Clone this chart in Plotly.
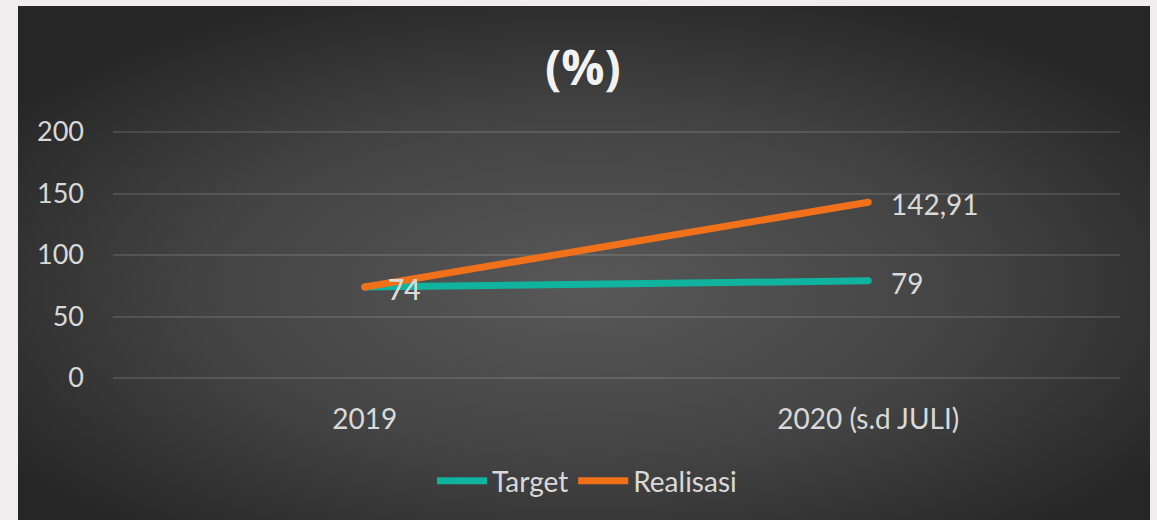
import base64
import plotly.graph_objects as go

categories = ["2019", "2020 (s.d JULI)"]
target = [74, 79]
realisasi = [74, 142.91]
target_labels = ["74", "79"]
realisasi_labels = ["74", "142,91"]
y_ticks = [0, 50, 100, 150, 200]

TEAL = "#0fb39e"
ORANGE = "#f0711a"
TXT = "#d9d9d9"
FONT = "Lato, 'Open Sans', sans-serif"

svg = (
    '<svg xmlns="http://www.w3.org/2000/svg" width="1132" height="514" '
    'viewBox="0 0 1132 514" preserveAspectRatio="none">'
    '<defs><radialGradient id="g" cx="0.5" cy="0.55" r="0.62">'
    '<stop offset="0" stop-color="#585858"/>'
    '<stop offset="0.55" stop-color="#434343"/>'
    '<stop offset="1" stop-color="#262626"/>'
    '</radialGradient></defs>'
    '<rect width="1132" height="514" fill="url(#g)"/></svg>'
)
src = "data:image/svg+xml;base64," + base64.b64encode(svg.encode()).decode()

# plot area pixel geometry
PL, PR, PB, PT = 113, 1120, 378, 130
PXPU = 1.23  # pixels per unit (from reference gridlines)
YMAX = (PB - PT) / PXPU

fig = go.Figure()
for name, vals, col in [("Target", target, TEAL), ("Realisasi", realisasi, ORANGE)]:
    fig.add_trace(go.Scatter(
        x=categories, y=vals, mode="lines", name=name,
        line=dict(color=col, width=7), hoverinfo="skip"))
    fig.add_trace(go.Scatter(
        x=categories, y=vals, mode="markers", showlegend=False,
        marker=dict(color=col, size=7, line=dict(width=0)), hoverinfo="skip"))

# data labels (x given as category index)
for vals, labels in [(target, target_labels), (realisasi, realisasi_labels)]:
    for i, (v, t) in enumerate(zip(vals, labels)):
        fig.add_annotation(x=i, y=v, text=t, showarrow=False, xanchor="left",
                           yanchor="middle", xshift=21, yshift=-2,
                           font=dict(family=FONT, size=28, color=TXT))

H = PB - PT
W = PR - PL
fig.add_annotation(xref="paper", yref="paper", x=(583 - PL) / W, y=(PB - 66) / H,
                   text="<b>(%)</b>", showarrow=False, xanchor="center", yanchor="middle",
                   font=dict(family="'Open Sans', sans-serif", size=48, color="#f2f2f2"))

fig.add_layout_image(dict(
    source=src, xref="paper", yref="paper",
    x=(18 - PL) / W, y=(PB - 6) / H,
    sizex=(1150 - 18) / W, sizey=(520 - 6) / H,
    xanchor="left", yanchor="top", sizing="stretch", layer="below"))

fig.update_layout(
    width=1157, height=520, autosize=False,
    margin=dict(l=PL, r=1157 - PR, t=PT, b=520 - PB),
    paper_bgcolor="#efeded", plot_bgcolor="rgba(0,0,0,0)",
    font=dict(family=FONT, size=28, color=TXT),
    showlegend=True,
    legend=dict(orientation="h", x=(587 - PL) / W, y=(PB - 481) / H,
                xanchor="center", yanchor="middle",
                font=dict(family=FONT, size=28, color=TXT), bgcolor="rgba(0,0,0,0)",
                itemwidth=50),
    xaxis=dict(type="category", range=[-0.5, 1.5], showgrid=False, zeroline=False,
               showline=False, ticks="", tickfont=dict(size=28, color=TXT),
               ticklabelstandoff=22),
    yaxis=dict(range=[0, YMAX], tickvals=y_ticks, showgrid=True,
               gridcolor="rgba(255,255,255,0.12)", gridwidth=1.5,
               zeroline=True, zerolinecolor="rgba(255,255,255,0.12)", zerolinewidth=1.5,
               showline=False, ticks="", tickfont=dict(size=27, color=TXT),
               ticklabelstandoff=28),
)

fig.write_html("out.html", config={"displayModeBar": False},
               post_script="document.body.style.margin='0';document.body.style.overflow='hidden';")
